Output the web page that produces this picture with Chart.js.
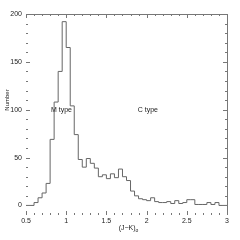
<!DOCTYPE html>
<html><head><meta charset="utf-8">
<script src="https://cdn.jsdelivr.net/npm/chart.js@4.4.0/dist/chart.umd.min.js"></script>
<style>html,body{margin:0;padding:0;background:#fff}</style>
</head><body>
<canvas id="c" width="240" height="240"></canvas>
<script>
// Histogram bin edges (J-K)o and counts per bin (bin width 0.05)
const binEdges = [0.50,0.55,0.60,0.65,0.70,0.75,0.80,0.85,0.90,0.95,
                  1.00,1.05,1.10,1.15,1.20,1.25,1.30,1.35,1.40,1.45,
                  1.50,1.55,1.60,1.65,1.70,1.75,1.80,1.85,1.90,1.95,
                  2.00,2.05,2.10,2.15,2.20,2.25,2.30,2.35,2.40,2.45,
                  2.50,2.55,2.60,2.65,2.70,2.75,2.80,2.85,2.90,2.95,3.00];
const counts = [0,0,0,3,8,13,23,69,108,140,
                192,165,104,74,48,40,49,44,39,30,
                32,28,33,29,38,30,26,15,10,7,
                6,5,8,4,3,3,4,2,5,2,
                3,6,6,1,1,1,3,1,3,0];
const xTickLabels = [0.5,1,1.5,2,2.5,3];
const yTickLabels = [0,50,100,150,200];
const xMinorStep = 0.1;
const yMinorStep = 10;
const annotations = [
  {text:'M type', x:0.81, y:100},
  {text:'C type', x:1.89, y:100}
];
const yTitle = 'Number';
const xTitleMain = '(J\u2212K)';
const xTitleSub = 'o';

const FONT = 'Liberation Sans, Arial, sans-serif';
const points = binEdges.map((x,i)=>({x, y: counts[Math.min(i, counts.length-1)]}));

const decor = {
  id:'decor',
  afterDraw(chart){
    const {ctx, chartArea:a, scales:{x, y}} = chart;
    ctx.save();
    ctx.strokeStyle = '#777';
    ctx.lineWidth = 1;
    const L = Math.round(a.left)+0.5, R = Math.round(a.right)+0.5;
    const T = Math.round(a.top)+0.5, B = Math.round(a.bottom)-0.5;
    ctx.beginPath();
    ctx.moveTo(Math.round(a.left), T); ctx.lineTo(R, T); ctx.lineTo(R, Math.round(a.bottom));
    // y ticks (inward, both sides)
    for (let v = y.min <= 0 ? 0 : y.min; v <= y.max + 1e-9; v += yMinorStep) {
      const major = yTickLabels.some(t => Math.abs(t - v) < 1e-6);
      const len = major ? 4 : 2;
      const py = Math.round(y.getPixelForValue(v)) + 0.5;
      ctx.moveTo(Math.round(a.left), py); ctx.lineTo(Math.round(a.left) + len, py);
      ctx.moveTo(Math.round(a.right), py); ctx.lineTo(Math.round(a.right) - len, py);
    }
    // x ticks (inward, top and bottom)
    for (let k = 0; x.min + k*xMinorStep <= x.max + 1e-9; k++) {
      const v = x.min + k*xMinorStep;
      const major = xTickLabels.some(t => Math.abs(t - v) < 1e-6);
      const len = major ? 4 : 2;
      const px = Math.round(x.getPixelForValue(v)) + 0.5;
      ctx.moveTo(px, Math.round(a.bottom)); ctx.lineTo(px, Math.round(a.bottom) - len);
      ctx.moveTo(px, Math.round(a.top)); ctx.lineTo(px, Math.round(a.top) + len);
    }
    ctx.stroke();

    ctx.fillStyle = '#222';
    // annotations
    ctx.font = '7px ' + FONT;
    ctx.textAlign = 'left'; ctx.textBaseline = 'middle';
    annotations.forEach(an => ctx.fillText(an.text, x.getPixelForValue(an.x), y.getPixelForValue(an.y)));
    // x title
    ctx.font = '7px ' + FONT;
    ctx.textAlign = 'left'; ctx.textBaseline = 'middle';
    const cx = (a.left + a.right)/2;
    const w = ctx.measureText(xTitleMain).width;
    ctx.font = '5px ' + FONT;
    const ws = ctx.measureText(xTitleSub).width;
    const x0 = cx - (w + ws)/2 + 2;
    ctx.font = '7px ' + FONT;
    ctx.fillText(xTitleMain, x0, 228);
    ctx.font = '5px ' + FONT;
    ctx.fillText(xTitleSub, x0 + w, 230.5);
    // y title
    ctx.save();
    ctx.translate(7, 100);
    ctx.rotate(-Math.PI/2);
    ctx.font = '6px ' + FONT;
    ctx.textAlign = 'center'; ctx.textBaseline = 'middle';
    ctx.fillText(yTitle, 0, 0);
    ctx.restore();
    ctx.restore();
  }
};

new Chart(document.getElementById('c'), {
  type:'line',
  data:{datasets:[{data:points, stepped:'after', borderColor:'#666', borderWidth:1,
    pointRadius:0, fill:false, tension:0}]},
  options:{
    responsive:false, animation:false, devicePixelRatio:1,
    layout:{padding:{top:14, right:13, left:0, bottom:0}},
    plugins:{legend:{display:false}, tooltip:{enabled:false}},
    scales:{
      x:{type:'linear', min:0.5, max:3,
        afterBuildTicks:s=>{s.ticks = xTickLabels.map(v=>({value:v}));},
        afterFit:s=>{s.height = 25;},
        grid:{display:false, drawTicks:false}, border:{display:false},
        ticks:{font:{size:7, family:FONT}, color:'#222', padding:2, maxRotation:0, autoSkip:false,
          callback:v=>String(v)}},
      y:{type:'linear', min:-10, max:200,
        afterBuildTicks:s=>{s.ticks = yTickLabels.map(v=>({value:v}));},
        afterFit:s=>{s.width = 26;},
        grid:{display:false, drawTicks:false}, border:{display:false},
        ticks:{font:{size:7, family:FONT}, color:'#222', padding:4, autoSkip:false,
          callback:v=>String(v)}}
    }
  },
  plugins:[decor]
});
</script>
</body></html>
